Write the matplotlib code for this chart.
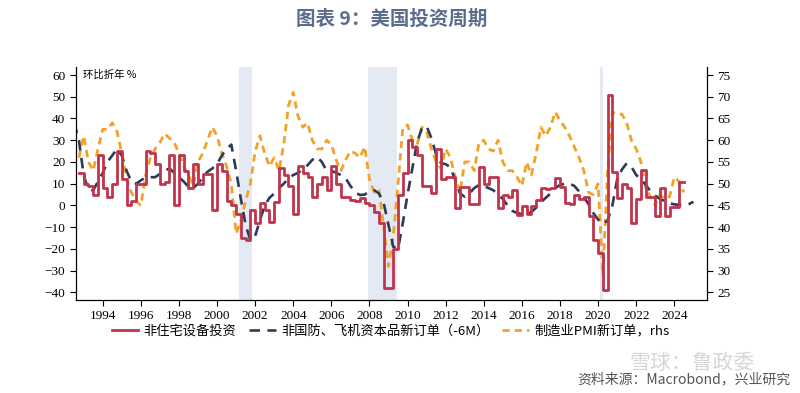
import numpy as np
import matplotlib
matplotlib.use("Agg")
import matplotlib.pyplot as plt
from matplotlib.lines import Line2D

plt.rcParams['font.family'] = ['Noto Sans CJK SC', 'DejaVu Sans']

# quarterly data, first point 1992Q4
start = 1992.75
red_vals = [15,
            10, 9, 5, 23,
            8, 4, 10, 25,
            12, 0, 2, 10,
            10, 25, 24, 19,
            10, 11, 23, 0,
            23, 16, 8, 19,
            10, 14.5, 14.5, -2,
            19, 16, 2, 0,
            -4, -15, -16, -2,
            -8, 1, -2, -7.5,
            1.7, 17, 14, 9,
            -4, 18, 15, 13,
            4, 10, 13, 7,
            18, 10, 4, 4,
            2.5, 2, 3.5, 1,
            0, -3, -8, -38,
            -38, -20, 5, 15,
            30, 27, 23, 9,
            9, 5.5, 26, 12,
            13, 13, -1, 8.6,
            8.6, 0.5, 0.5, 17.8,
            10, 13, 13, -1.3,
            4.8, 4, 7, -4.4,
            -0.4, -4, -0.4, 2.5,
            8, 7.5, 8, 12.4,
            8.6, 1, 0.5, 5,
            3, 4, -5, -16,
            -22, -39, 51, 15.5,
            3.5, 10, 8, -8,
            3, 16.5, 4, 4,
            -5, 8, -5, -0.5,
            -0.5, 11]

# navy series starts one quarter earlier (1992Q3)
navy_start = 1992.5
navy_vals = [38, 30,
             14, 7, 7, 11,
             15, 20, 23, 26,
             23, 16, 11, 10,
             11.5, 13, 13, 13,
             14.5, 16, 17, 15,
             13, 11, 8.5, 8,
             10, 13, 15.5, 17,
             19, 23, 26, 28,
             16, 3, -9, -16,
             -14, -7, 0, 3.5,
             5.5, 8, 10, 12.5,
             14, 15, 16.5, 18.5,
             21, 22.4, 20, 16,
             16, 15, 14, 12.5,
             9, 6, 4.8, 5,
             6.5, 7, 5.5, 1,
             -9, -19, -20, -8,
             5, 17, 29, 35.5,
             36.5, 31, 23.5, 19.5,
             19, 17.5, 11.7, 5.5,
             4, 5.5, 8, 9.4,
             9, 8, 7, 5,
             3, 0, -2.5, -3.5,
             -4, -4, -3, -1,
             1.5, 3.5, 5.5, 8,
             9.4, 10, 10, 9,
             6.5, 4, 0.5, -3.5,
             -6.5, -8.5, -7, 0,
             12, 16.5, 19.4, 17.8,
             14, 12, 9.5, 6.5,
             4.5, 3, 2, 1,
             0.5, 0.3, 0.2, 0.5,
             1.7]

# PMI new orders (rhs), first point 1992Q4
pmi_vals = [56,
            61, 55, 53, 58,
            62.5, 62.5, 64, 62,
            57, 51, 48, 46,
            45, 52, 56, 58,
            59.5, 61.5, 60.5, 59.5,
            57, 54, 52, 49.5,
            55, 57, 60, 63,
            61, 57, 54, 50,
            38.5, 41.5, 46, 50,
            57.4, 61, 57, 54,
            56, 53, 59, 68,
            71, 65.5, 63, 64,
            60, 58, 58, 60,
            59, 55.5, 53, 55.5,
            57.5, 57, 56, 58.5,
            51, 48, 48.5, 40,
            31, 38, 50, 63,
            63.5, 60, 59, 63,
            62, 58, 55, 53.5,
            58, 56, 51.5, 48,
            55, 55, 53, 59.5,
            60, 58, 57.5, 60,
            55, 53, 53, 51.5,
            49.5, 55, 52, 57,
            63, 61, 63, 66.5,
            64.5, 63, 61, 58.5,
            56, 53, 48, 47.5,
            50, 29, 53, 66.5,
            66, 66, 64, 60,
            58, 55, 49, 47,
            45, 47.5, 46.5, 47,
            51.5, 50.5, 48]

recessions = [(2001.17, 2001.83), (2007.92, 2009.42), (2020.1, 2020.25)]
year_ticks = list(range(1994, 2025, 2))

labels = ["非住宅设备投资", "非国防、飞机资本品新订单（-6M）", "制造业PMI新订单，rhs"]
c_red = "#c0344c"
c_navy = "#2c3b58"
c_orange = "#f2a227"

t_red = start + 0.25 * np.arange(len(red_vals))
t_navy = navy_start + 0.25 * np.arange(len(navy_vals))
t_pmi = start + 0.25 * np.arange(len(pmi_vals))

fig = plt.figure(figsize=(8, 3.93), dpi=100)
ax2 = fig.add_axes([0.0946, 0.2366, 0.789, 0.593])
ax = ax2.twinx()
# left-value axis in front, pmi axis behind
ax2.yaxis.tick_right()
ax.yaxis.tick_left()
ax.set_zorder(ax2.get_zorder() + 1)
ax.patch.set_visible(False)

for a, b in recessions:
    ax2.axvspan(a, b, color="#e3eaf4", lw=0, zorder=0)

ax2.plot(t_pmi, pmi_vals, color=c_orange, lw=2.0, dashes=(2.6, 1.8))
ax.plot(t_navy, navy_vals, color=c_navy, lw=1.9, dashes=(4, 2.8))
ax.plot(np.append(t_red, t_red[-1] + 0.25), np.append(red_vals, red_vals[-1]),
        color=c_red, lw=2.0, drawstyle="steps-post")

ax.set_xlim(1992.58, 2025.71)
ax.set_ylim(-43.5, 63.7)
ax2.set_ylim(23.25, 76.85)
ax.set_yticks(range(-40, 61, 10))
ax2.set_yticks(range(25, 76, 5))
ax2.set_xticks(year_ticks)

for a in (ax, ax2):
    a.spines["top"].set_visible(False)
    a.tick_params(direction="out", length=4, width=0.8, colors="black",
                  labelsize=9.5)
    for lab in a.get_xticklabels() + a.get_yticklabels():
        lab.set_fontfamily("Liberation Serif")

ax.text(0.012, 0.965, "环比折年 %", transform=ax.transAxes, fontsize=7.5,
        va="center", ha="left")

handles = [Line2D([], [], color=c_red, lw=2.0),
           Line2D([], [], color=c_navy, lw=1.9, dashes=(4, 2.8)),
           Line2D([], [], color=c_orange, lw=2.0, dashes=(2.6, 1.8))]
fig.legend(handles, labels, loc="center", bbox_to_anchor=(0.488, 0.158),
           ncol=3, frameon=False, fontsize=9.5, handlelength=2.0,
           handletextpad=0.4, columnspacing=1.0)

fig.text(0.49, 0.952, "图表 9：美国投资周期", ha="center", va="center",
         fontsize=14, color="#5a6d8c", fontweight="bold")
fig.text(0.865, 0.077, "雪球：鲁政委", ha="center", va="center",
         fontsize=15, color="#d6d6d6")
fig.text(0.9875, 0.036, "资料来源：Macrobond，兴业研究", ha="right",
         va="center", fontsize=10, color="#555555")

fig.savefig("out.png", dpi=100)
